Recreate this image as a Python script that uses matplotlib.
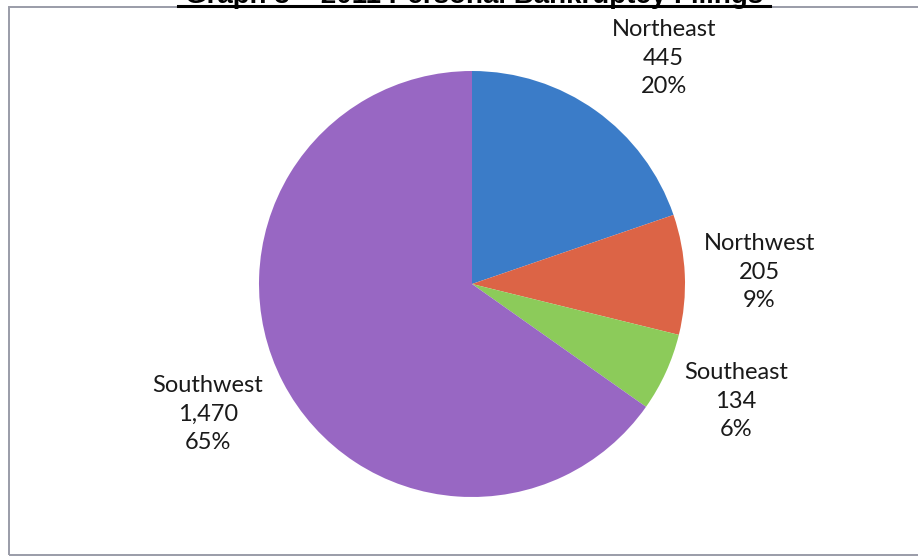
import numpy as np
import matplotlib
matplotlib.use('Agg')
import matplotlib.pyplot as plt
from matplotlib.patches import Rectangle
from matplotlib.lines import Line2D

# 2011 personal bankruptcy filings by region
regions = ['Northeast', 'Northwest', 'Southeast', 'Southwest']
filings = [445, 205, 134, 1470]
colors = ['#3b7cc8', '#dc6446', '#8ccb5a', '#9867c3']

# label anchor points (pie radius = 1)
label_xy = [(0.90, 1.06), (1.35, 0.055), (1.24, -0.55), (-1.24, -0.61)]

W, H = 918, 557
fig = plt.figure(figsize=(W / 100, H / 100), dpi=100)
fig.patch.set_facecolor('white')

# chart border (open on the right)
fig.add_artist(Rectangle((9 / W, 2 / H), 1.0, 1 - 9 / H, transform=fig.transFigure,
                         fill=False, edgecolor='#9a9ca8', linewidth=1.4))

# title sits mostly above the cropped top edge
fig.text(474 / W, 1 - 3 / H, 'Graph 3 \u2013 2011 Personal Bankruptcy Filings',
         ha='center', va='baseline', fontsize=20, fontweight='bold',
         family='Liberation Sans', color='black')
fig.add_artist(Line2D([178 / W, 770 / W], [1 - 6 / H, 1 - 6 / H],
                      transform=fig.transFigure, color='black', linewidth=2.2))

cx, cy, r = 472, 284, 213
ax = fig.add_axes([(cx - r) / W, (H - cy - r) / H, 2 * r / W, 2 * r / H])
ax.pie(filings, colors=colors, startangle=90, counterclock=False,
       radius=1, wedgeprops=dict(linewidth=0))
ax.set_xlim(-1, 1)
ax.set_ylim(-1, 1)
ax.axis('off')

total = sum(filings)
for name, val, (x, y) in zip(regions, filings, label_xy):
    pct = round(100 * val / total)
    ax.text(x, y, f'{name}\n{val:,}\n{pct}%', ha='center', va='center',
            fontsize=17, family='Lato', color='#1a1a1a', linespacing=1.45)

fig.savefig('out.png', dpi=100)
